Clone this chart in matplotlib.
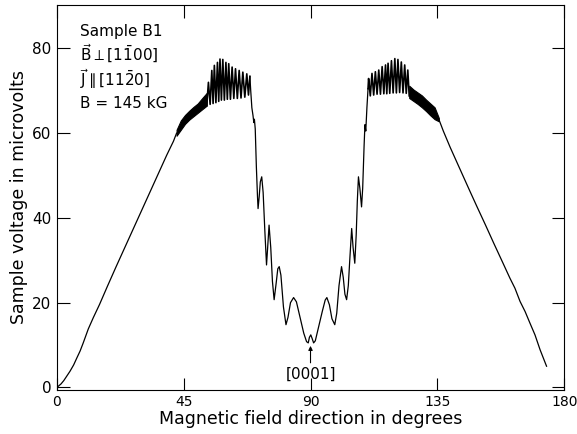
import matplotlib.pyplot as plt

# smooth rise from 0 deg
rise_x = [0, 0.6, 1.5, 2.5, 3.5, 4.7, 6, 7.1, 8.3, 9.4, 11.2, 13, 15.2, 18, 21, 24, 27, 30, 33, 36, 39, 41.4, 42.5]
rise_y = [0, 0.3, 0.8, 1.6, 2.6, 3.8, 5.3, 6.9, 8.6, 10.5, 13.8, 16.5, 19.6, 23.9, 28.4, 32.8, 37.2, 41.6, 46.0, 50.4, 54.8, 58.1, 60.0]

# dense noise band, left side (lower / upper edge)
lband_x = [42.5, 44, 45.5, 47, 48.5, 50, 51.5, 53.2]
lband_lo = [59.4, 60.8, 62.2, 63.2, 64.0, 64.8, 65.6, 66.5]
lband_hi = [60.8, 63.0, 64.3, 65.3, 66.2, 67.0, 68.2, 69.5]

# oscillations, left maximum
losc_x = [53.2, 53.8, 54.4, 55.0, 55.45, 55.9, 56.45, 57.0, 57.45, 57.9, 58.4, 58.9, 59.45, 60.0,
          60.5, 61.0, 61.6, 62.2, 62.8, 63.4, 64.05, 64.7, 65.35, 66.0, 66.7, 67.4, 68.0, 68.5]
losc_y = [66.5, 72.0, 66.8, 74.8, 67.0, 76.0, 67.2, 76.7, 67.5, 77.5, 67.8, 77.4, 67.8, 76.7,
          68.0, 76.4, 68.0, 75.6, 68.2, 75.2, 68.2, 74.8, 68.3, 74.4, 68.5, 74.0, 69.0, 73.4]

# the dip around [0001]
dip_x = [68.5, 68.8, 69.2, 69.6, 69.9, 70.1, 70.4, 70.8, 71.2, 71.4, 71.8, 72.2, 72.7, 73.2, 73.8,
         74.4, 74.8, 75.3, 75.9, 76.5, 77.1, 77.8, 78.4, 78.9, 79.5, 80.4, 81.3, 82.0, 82.9, 84.0,
         85.0, 86.3, 87.6, 88.6, 89.2, 89.6, 90.1, 90.6, 91.1, 91.7, 92.7, 94.2, 95.2, 95.8, 96.7,
         97.6, 98.6, 99.3, 100.1, 101.0, 101.6, 102.2, 102.8, 103.4, 104.0, 104.6, 105.1, 105.7,
         106.2, 106.6, 107.0, 107.5, 108.1, 108.5, 109.0, 109.3, 109.6, 110.0, 110.4]
dip_y = [73.4, 70.0, 66.0, 64.2, 62.5, 63.3, 61.0, 52.0, 45.0, 42.2, 45.0, 48.5, 49.7, 46.0, 37.0,
         28.9, 33.0, 38.3, 33.0, 25.0, 20.7, 24.5, 28.0, 28.5, 26.5, 19.0, 14.8, 16.5, 20.0, 21.2,
         20.2, 16.5, 12.8, 10.8, 10.5, 11.8, 12.4, 11.5, 10.5, 11.0, 13.8, 18.0, 20.6, 21.2, 19.5,
         16.2, 14.8, 17.5, 24.0, 28.5, 26.0, 22.0, 20.7, 24.0, 31.0, 37.5, 33.0, 29.3,
         36.0, 44.0, 49.7, 47.0, 42.6, 47.0, 57.0, 62.0, 60.5, 66.0, 70.5]

# oscillations, right maximum
rosc_x = [110.4, 110.6, 111.2, 111.8, 112.4, 113.0, 113.6, 114.2, 114.8, 115.4, 116.0, 116.6, 117.05,
          117.5, 118.1, 118.7, 119.3, 119.9, 120.45, 121.0, 121.6, 122.2, 122.8, 123.4, 123.95, 124.5, 125.0]
rosc_y = [70.5, 72.9, 68.8, 74.1, 69.0, 74.5, 69.2, 74.9, 69.2, 75.7, 69.3, 76.1, 69.3,
          76.5, 69.4, 77.1, 69.5, 77.6, 69.5, 77.4, 69.6, 76.8, 69.5, 76.1, 69.4, 74.9, 68.8]

# dense noise band, right side
rband_x = [125, 126.5, 128, 129.5, 131, 132.5, 134, 135.5]
rband_lo = [68.3, 67.6, 66.9, 66.1, 65.2, 64.2, 63.3, 62.8]
rband_hi = [71.2, 70.3, 69.6, 68.9, 67.9, 67.0, 66.1, 63.6]

# fall towards 180 deg
fall_x = [135.5, 137.1, 139.5, 142, 144.5, 146.6, 149, 152, 155, 158, 160.7, 162.5, 164.3, 166.1,
          167.8, 169.6, 171.4, 173.7]
fall_y = [63.3, 60.5, 56.7, 53.0, 49.3, 46.2, 42.7, 38.4, 34.0, 29.7, 25.8, 23.4, 20.3, 17.9,
          15.2, 12.4, 8.9, 5.0]

info_lines = ["Sample B1",
              r"$\vec{\mathrm{B}}\perp[1\bar{1}00]$",
              r"$\vec{\mathrm{J}}\parallel[11\bar{2}0]$",
              "B = 145 kG"]
info_y = [84.0, 78.7, 72.8, 66.9]

plt.rcParams['mathtext.fontset'] = 'dejavusans'

fig = plt.figure(figsize=(5.77, 4.34), dpi=100)
ax = fig.add_axes([0.0983, 0.1025, 0.8797, 0.8855])

lw = 0.9
ax.plot(rise_x, rise_y, color='black', lw=lw)
ax.fill_between(lband_x, lband_lo, lband_hi, color='black', lw=0.8)
ax.plot(losc_x, losc_y, color='black', lw=1.2)
ax.plot(dip_x, dip_y, color='black', lw=lw)
ax.plot(rosc_x, rosc_y, color='black', lw=1.2)
ax.fill_between(rband_x, rband_lo, rband_hi, color='black', lw=0.8)
ax.plot(fall_x, fall_y, color='black', lw=lw)

for txt, yy in zip(info_lines, info_y):
    ax.text(8.3, yy, txt, fontsize=11, va='center', ha='left')

ax.annotate('', xy=(90, 9.8), xytext=(90, 5.8),
            arrowprops=dict(arrowstyle='-|>', color='black', lw=0.8,
                            mutation_scale=6, shrinkA=0, shrinkB=0))
ax.text(90, 3.0, '[0001]', fontsize=11, ha='center', va='center')

ax.set_xlim(0, 180)
ax.set_ylim(-0.5, 90.2)
ax.set_xticks([0, 45, 90, 135, 180])
ax.set_yticks([0, 20, 40, 60, 80])
ax.tick_params(direction='in', length=9, width=0.8, top=True, right=True,
               labelsize=11, pad=4)
ax.tick_params(axis='x', labelsize=10)
for s in ax.spines.values():
    s.set_linewidth(0.8)

ax.set_xlabel('Magnetic field direction in degrees', fontsize=12.5, labelpad=1)
ax.set_ylabel('Sample voltage in microvolts', fontsize=12.5, labelpad=3)

fig.savefig('out.png', dpi=100)
